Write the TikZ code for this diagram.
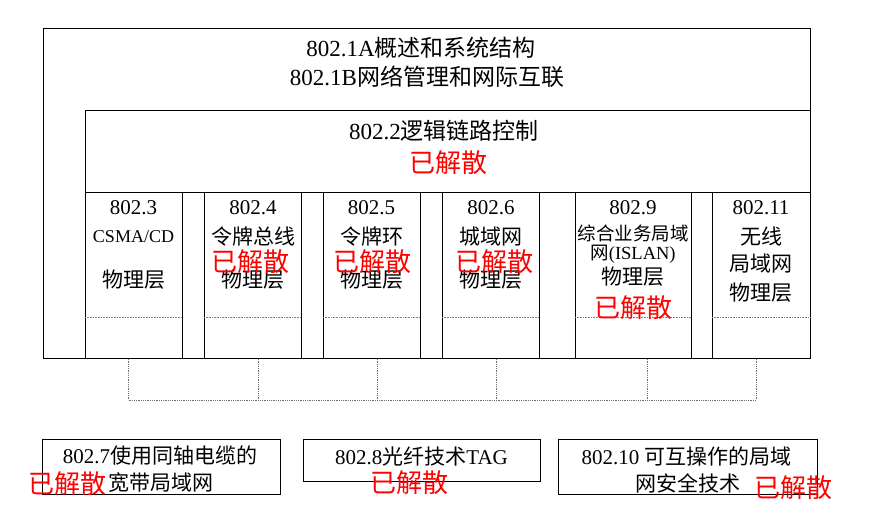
\documentclass[tikz,border=0pt]{standalone}
\usepackage{fontspec}
\usepackage{xcolor}
\usepackage{tikz}
\usetikzlibrary{positioning}
\newfontfamily\cjk{Noto Sans CJK SC}
\newfontfamily\latinserif{Liberation Serif}
\newcommand{\stdno}[1]{{\latinserif #1}}
\definecolor{linkgray}{RGB}{110,110,110}
\tikzset{
  frame/.style={draw, line width=0.8pt, inner sep=0pt, anchor=north west},
  txt/.style={font=\cjk\fontsize{21}{24}\selectfont, inner sep=0pt},
  big/.style={txt, font=\cjk\fontsize{23}{26}\selectfont},
  small/.style={txt, font=\cjk\fontsize{18.5}{22}\selectfont},
  gone/.style={font=\cjk\fontsize{26}{30}\selectfont, text=red, inner sep=0pt},
  link/.style={draw=linkgray, line width=0.8pt, densely dotted},
  divider/.style={draw=gray, line width=0.6pt, densely dotted},
}
\begin{document}
\begin{tikzpicture}[x=1pt, y=-1pt]
  \useasboundingbox (0,0) rectangle (886,523);
  % frames
  \node[frame, minimum width=767pt, minimum height=330pt] (arch) at (43,28) {};
  \node[frame, minimum width=725pt, minimum height=82pt] (llc) at (85,110) {};
  \foreach \l/\r [count=\i] in {85/182,204/301,323/420,442/539,575/691,712/810}{
    \node[frame, minimum width={(\r-\l)*1pt}, minimum height=166pt] (phy\i) at (\l,192) {};
    \draw[divider] (\l,317) -- (\r,317);
  }
  \node[frame, minimum width=238pt, minimum height=55pt] (b7) at (42,439) {};
  \node[frame, minimum width=237pt, minimum height=42pt] (b8) at (303,439) {};
  \node[frame, minimum width=259pt, minimum height=55pt] (b10) at (558,439) {};

  % dotted links under the frame
  \foreach \x [count=\i] in {128.6,258.5,377,496,647,756}
    \coordinate (drop\i) at (\x,400);
  \draw[link] (drop1) -- (drop6);
  \foreach \i in {1,...,6}
    \draw[link] (arch.south -| drop\i) -- (drop\i);

  % texts
  \node[big] (t1a) at (421,48) {\stdno{802.1A}概述和系统结构};
  \node[big] (t1b) at (427,77) {\stdno{802.1B}网络管理和网际互联};
  \node[big] (t2) at (444,131) {\stdno{802.2}逻辑链路控制};

  \node[txt] (n3) at (133.5,208) {\stdno{802.3}};
  \node[txt] at (133.5,237) {\stdno{\fontsize{18}{22}\selectfont CSMA/CD}};
  \node[txt] at (133.5,280) {物理层};

  \node[txt] (n4) at (253,208) {\stdno{802.4}};
  \node[txt] at (253,237) {令牌总线};
  \node[txt] at (253,280) {物理层};

  \node[txt] (n5) at (371.5,208) {\stdno{802.5}};
  \node[txt] at (371.5,237) {令牌环};
  \node[txt] at (371.5,280) {物理层};

  \node[txt] (n6) at (491,208) {\stdno{802.6}};
  \node[txt] at (491,237) {城域网};
  \node[txt] at (491,280) {物理层};

  \node[txt] (n9) at (633,208) {\stdno{802.9}};
  \node[small] at (633,233) {综合业务局域};
  \node[small] at (633,254) {网\stdno{(ISLAN)}};
  \node[txt] at (633,277) {物理层};

  \node[txt] (n11) at (761,208) {\stdno{802.11}};
  \node[txt] at (761,236) {无线};
  \node[txt] at (761,264) {局域网};
  \node[txt] at (761,293) {物理层};

  \node[txt] (n7) at (160,456) {\stdno{802.7}使用同轴电缆的};
  \node[txt] at (161,483) {宽带局域网};
  \node[txt] (n8) at (421.5,457) {\stdno{802.8}光纤技术\stdno{TAG}};
  \node[txt] (n10) at (686.5,456) {\stdno{802.10 }可互操作的局域};
  \node[txt] at (688,483) {网安全技术};

  % disbanded marks
  \node[gone] at (448,163) {已解散};
  \node[gone] at (250,262) {已解散};
  \node[gone] at (372,262) {已解散};
  \node[gone] at (494.5,262) {已解散};
  \node[gone] at (633,308) {已解散};
  \node[gone] at (67,484) {已解散};
  \node[gone] at (409,483) {已解散};
  \node[gone] at (793,488) {已解散};
\end{tikzpicture}
\end{document}
